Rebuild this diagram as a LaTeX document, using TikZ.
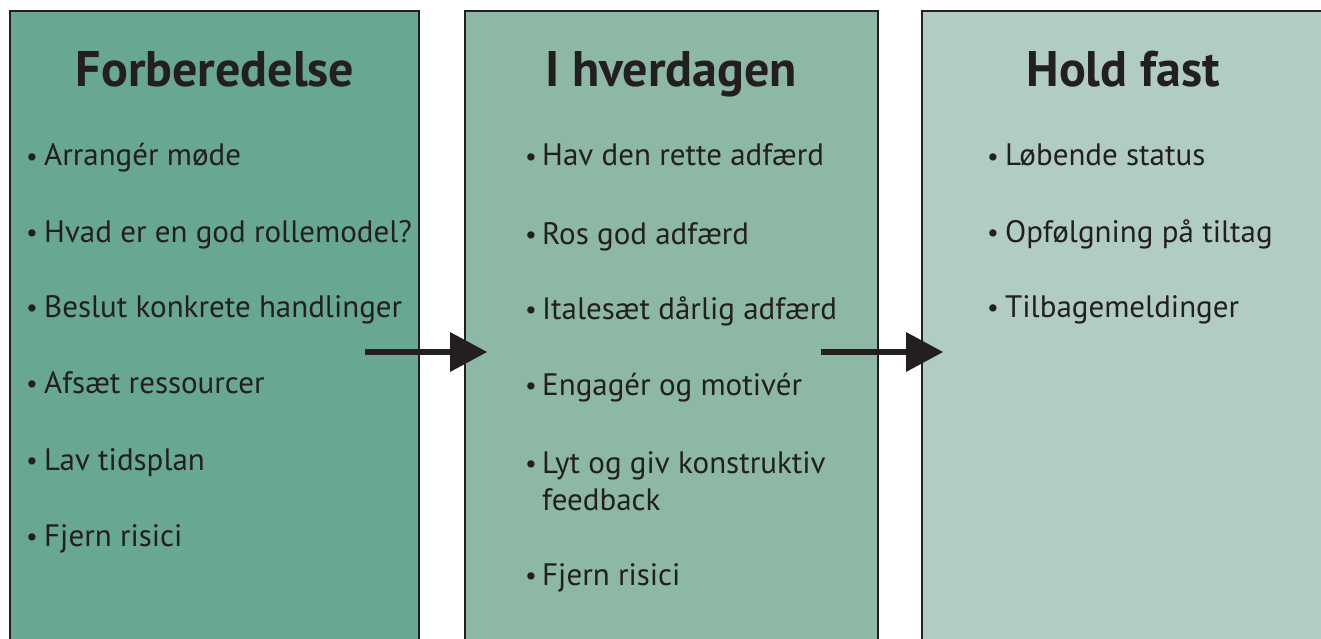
\documentclass[tikz,border=0pt]{standalone}
\usepackage{fontspec}
\setmainfont{PT Sans}
\definecolor{boxA}{HTML}{68A790}
\definecolor{boxB}{HTML}{8CB8A5}
\definecolor{boxC}{HTML}{B1CDC3}
\definecolor{ink}{HTML}{231F20}
\begin{document}
\begin{tikzpicture}[x=1pt,y=-1pt,
  panel/.style={draw=ink,line width=2pt},
  title/.style={anchor=base,inner sep=0pt,text=ink,font=\fontsize{50}{56}\selectfont\bfseries},
  item/.style={anchor=base west,inner sep=0pt,text=ink,font=\fontsize{31}{37}\selectfont,align=left},
  bul/.style={anchor=base,inner sep=0pt,text=ink,font=\fontsize{26}{37}\selectfont},
  arrowshaft/.style={draw=ink,line width=6pt},
]
\useasboundingbox (0,0) rectangle (1321,639);
\fill[white] (0,0) rectangle (1321,639);
% panels
\filldraw[panel,fill=boxA] (10,650) -- (10,11) -- (419,11) -- (419,650);
\filldraw[panel,fill=boxB] (465,650) -- (465,11) -- (878,11) -- (878,650);
\filldraw[panel,fill=boxC] (922,650) -- (922,11) -- (1330,11) -- (1330,650);
% titles
\node[title] (t1) at (215,87) {Forberedelse};
\node[title] (t2) at (671,87) {I hverdagen};
\node[title] (t3) at (1123,87) {Hold fast};
% items box 1
\foreach \y/\t [count=\i] in {166/Arrangér møde,242/Hvad er en god rollemodel?,317/Beslut konkrete handlinger,393/Afsæt ressourcer,470/Lav tidsplan,546/Fjern risici}{
  \node[bul] (ab\i) at (32,\y-1) {•};
  \node[item] (a\i) at (44,\y) {\t};
}
% items box 2
\foreach \y/\t [count=\i] in {166/Hav den rette adfærd,244/Ros god adfærd,319/Italesæt dårlig adfærd,395/Engagér og motivér,473/Lyt og giv konstruktiv,585/Fjern risici}{
  \node[bul] (bb\i) at (531,\y-1) {•};
  \node[item] (b\i) at (542,\y) {\t};
}
\node[item] (b5b) at (542,510) {feedback};
% items box 3
\foreach \y/\t [count=\i] in {166/Løbende status,242/Opfølgning på tiltag,317/Tilbagemeldinger}{
  \node[bul] (cb\i) at (993,\y-1) {•};
  \node[item] (c\i) at (1005,\y) {\t};
}
% arrows
\coordinate (s1) at (365,352);
\coordinate (e1) at (452,352);
\coordinate (s2) at (821,352);
\coordinate (e2) at (908,352);
\draw[arrowshaft] (s1) -- (e1);
\fill[ink] (450,332) -- (487,352) -- (450,372) -- cycle;
\draw[arrowshaft] (s2) -- (e2);
\fill[ink] (906,332) -- (943,352) -- (906,372) -- cycle;
\end{tikzpicture}
\end{document}
